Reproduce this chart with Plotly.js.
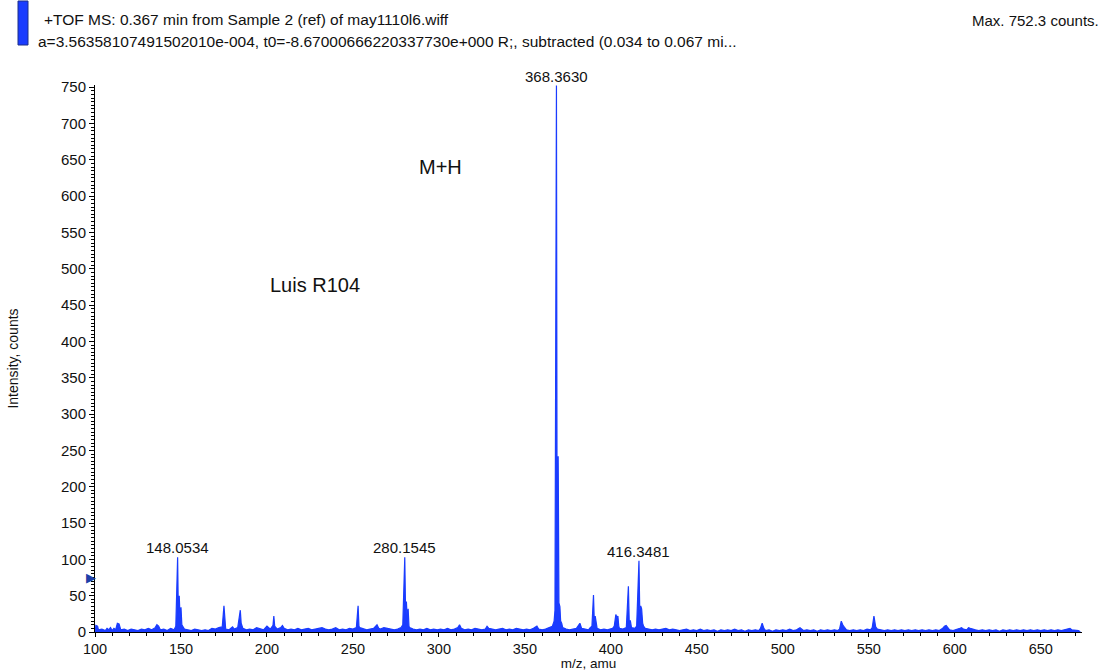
<!DOCTYPE html>
<html>
<head>
<meta charset="utf-8">
<script src="https://cdn.plot.ly/plotly-3.0.1.min.js"></script>
<style>html,body{margin:0;padding:0;background:#fff;}#chart{width:1106px;height:671px;}</style>
</head>
<body>
<div id="chart"></div>
<script>
// m/z values (amu)
var mz = [
  100, 100.5, 101.5, 102, 104, 106, 107, 108, 109, 110,
  111, 112, 113, 114, 115, 117, 119, 121, 123, 125,
  127, 129, 131, 133, 135, 136, 137, 138, 140, 142,
  144, 146, 147, 148.05, 148.5, 149, 149.5, 150, 150.5, 151,
  152, 154, 156, 158, 160, 162, 164, 166, 168, 170,
  172, 174, 175, 175.5, 176, 178, 180, 181, 183, 184.5,
  185, 186, 188, 190, 192, 194, 196, 198, 200, 201,
  202, 203.5, 204, 204.5, 206, 208, 209, 210, 212, 214,
  216, 218, 220, 222, 224, 226, 228, 230, 232, 234,
  236, 238, 240, 242, 244, 246, 248, 250, 252, 253,
  253.5, 254, 256, 258, 260, 262, 264, 265, 266, 268,
  270, 272, 274, 276, 278, 279, 280.15, 280.6, 281.1, 281.6,
  282.1, 282.6, 283, 285, 287, 289, 291, 293, 295, 297,
  299, 301, 303, 305, 307, 309, 311, 312, 313, 315,
  317, 319, 321, 323, 325, 327, 328, 329, 331, 333,
  335, 337, 339, 341, 343, 345, 347, 349, 351, 353,
  355, 357, 358, 360, 362, 364, 366, 367, 367.5, 368.36,
  368.8, 369.37, 369.8, 370.37, 370.8, 371.4, 372, 374, 376, 378,
  380, 382, 383, 385, 387, 388, 389, 389.9, 390.4, 390.9,
  391.5, 392, 394, 396, 398, 400, 401, 402, 402.9, 403.5,
  404.1, 404.6, 405, 407, 409, 410.2, 410.7, 411.3, 411.8, 412,
  414, 415, 416.35, 416.8, 417.35, 417.9, 418.5, 419, 420, 422,
  424, 426, 428, 430, 432, 434, 436, 438, 440, 442,
  444, 446, 448, 450, 452, 454, 456, 458, 460, 462,
  464, 466, 468, 470, 472, 474, 476, 478, 480, 482,
  484, 486, 487, 488, 489, 490, 492, 494, 496, 498,
  500, 502, 504, 506, 508, 510, 511, 512, 514, 516,
  518, 520, 522, 524, 526, 528, 530, 532, 533, 534,
  535, 536, 537, 539, 541, 543, 545, 547, 549, 551,
  552, 553, 553.5, 554, 555, 557, 559, 561, 563, 565,
  567, 569, 571, 573, 575, 577, 579, 581, 583, 585,
  587, 589, 591, 593, 594, 595, 596, 597, 599, 601,
  603, 604, 605, 607, 608, 609, 610, 612, 614, 616,
  618, 620, 622, 624, 626, 628, 630, 632, 634, 636,
  638, 640, 642, 644, 646, 648, 650, 652, 654, 656,
  658, 660, 662, 664, 666, 667, 668, 670, 672, 673
];
// intensity (counts)
var counts = [
  0, 9, 8, 3, 4, 2, 5, 3, 6, 2,
  5, 3, 12, 11, 3, 4, 2, 4, 3, 2,
  4, 3, 5, 3, 6, 10, 8, 3, 4, 2,
  5, 3, 8, 103, 20, 50, 15, 34, 10, 8,
  4, 3, 2, 4, 3, 2, 3, 2, 5, 4,
  6, 7, 36, 8, 4, 3, 7, 4, 6, 30,
  12, 5, 3, 4, 3, 6, 4, 3, 8, 6,
  4, 9, 22, 8, 4, 6, 9, 5, 3, 4,
  3, 5, 3, 4, 5, 3, 4, 5, 6, 4,
  3, 4, 6, 3, 4, 3, 5, 4, 6, 36,
  8, 6, 4, 3, 4, 5, 10, 5, 4, 6,
  5, 4, 3, 4, 6, 10, 103, 30, 42, 15,
  32, 8, 6, 4, 3, 4, 3, 5, 3, 4,
  3, 4, 3, 5, 3, 4, 6, 10, 5, 3,
  4, 3, 5, 4, 3, 4, 8, 5, 4, 3,
  4, 5, 3, 4, 3, 5, 4, 3, 4, 3,
  5, 8, 4, 3, 4, 6, 8, 15, 30, 752.3,
  40, 242, 40, 35, 15, 12, 6, 4, 3, 4,
  5, 12, 5, 4, 3, 6, 8, 51, 12, 22,
  8, 5, 3, 4, 3, 4, 5, 8, 24, 20,
  22, 8, 5, 4, 6, 63, 12, 16, 8, 6,
  5, 8, 98, 30, 36, 32, 12, 8, 5, 4,
  3, 4, 3, 4, 5, 3, 4, 3, 2, 3,
  4, 2, 3, 2, 4, 2, 3, 2, 3, 1,
  3, 2, 3, 2, 4, 2, 3, 1, 3, 2,
  3, 2, 5, 12, 5, 2, 3, 1, 3, 2,
  3, 2, 4, 2, 3, 6, 4, 2, 3, 2,
  3, 1, 3, 2, 3, 2, 3, 2, 4, 15,
  9, 5, 3, 2, 3, 2, 3, 2, 4, 3,
  6, 22, 10, 7, 4, 3, 2, 3, 2, 3,
  2, 3, 2, 3, 2, 3, 2, 3, 2, 3,
  2, 3, 2, 5, 8, 9, 5, 3, 2, 3,
  5, 6, 4, 3, 6, 5, 4, 3, 2, 3,
  2, 3, 2, 3, 1, 3, 2, 3, 2, 3,
  2, 3, 2, 3, 2, 3, 2, 3, 2, 3,
  2, 3, 2, 3, 4, 5, 3, 3, 2, 0
];
// labelled peaks
var peakLabels = ['148.0534', '280.1545', '368.3630', '416.3481'];
var peakMz = [148.05, 280.15, 368.36, 416.35];
var peakCounts = [103, 103, 752.3, 98];
// header texts
var headerLine1 = '+TOF MS: 0.367 min from Sample 2 (ref) of may1110l6.wiff';
var headerLine2 = 'a=3.56358107491502010e-004, t0=-8.67000666220337730e+000 R;, subtracted (0.034 to 0.067 mi...';
var maxText = 'Max. 752.3 counts.';
var noteTexts = ['M+H', 'Luis R104'];
var noteMz = [301, 228];
var noteCounts = [640, 477];
var markerCount = 75;

var W = 1106, H = 671, L = 95, R = 24, T = 85, B = 39;
var pw = W - L - R, ph = H - T - B;
function px(x) { return (x - L) / pw; }
function py(y) { return (H - B - y) / ph; }

var FONT = 'Liberation Sans, Arial, sans-serif';
var BLUE = '#1a3cff';
var TXT = '#111';

var annotations = [];
for (var i = 0; i < peakLabels.length; i++) {
  annotations.push({x: peakMz[i], y: peakCounts[i], xref: 'x', yref: 'y', text: peakLabels[i],
    showarrow: false, xanchor: 'center', yanchor: 'bottom', yshift: -1,
    font: {family: FONT, size: 15, color: TXT}});
}
for (var j = 0; j < noteTexts.length; j++) {
  annotations.push({x: noteMz[j], y: noteCounts[j], xref: 'x', yref: 'y', text: noteTexts[j],
    showarrow: false, xanchor: 'center', yanchor: 'middle',
    font: {family: FONT, size: 20, color: TXT}});
}
annotations.push({x: px(42), y: py(20), xref: 'paper', yref: 'paper', text: headerLine1, showarrow: false,
  xanchor: 'left', yanchor: 'middle', font: {family: FONT, size: 15.5, color: TXT}});
annotations.push({x: px(36), y: py(41), xref: 'paper', yref: 'paper', text: headerLine2, showarrow: false,
  xanchor: 'left', yanchor: 'middle', font: {family: FONT, size: 15.5, color: TXT}});
annotations.push({x: px(1101), y: py(21), xref: 'paper', yref: 'paper', text: maxText, showarrow: false,
  xanchor: 'right', yanchor: 'middle', font: {family: FONT, size: 15, color: TXT}});
annotations.push({x: 0, y: markerCount, xref: 'paper', yref: 'y', text: '\u25B6', showarrow: false,
  xanchor: 'right', yanchor: 'middle', xshift: 3, font: {family: 'DejaVu Sans', size: 13, color: '#1d3fa8'}});

var trace = {
  x: mz, y: counts, type: 'scatter', mode: 'lines',
  line: {color: BLUE, width: 1.2}, fill: 'tozeroy', fillcolor: BLUE,
  hoverinfo: 'x+y'
};

var layout = {
  width: W, height: H,
  margin: {l: L, r: R, t: T, b: B, pad: 0},
  paper_bgcolor: '#fff', plot_bgcolor: '#fff',
  showlegend: false,
  font: {family: FONT, size: 15, color: TXT},
  xaxis: {
    range: [100, 674], tickvals: [100,150,200,250,300,350,400,450,500,550,600,650],
    showgrid: false, zeroline: false, showline: true, linecolor: '#000', linewidth: 1,
    ticks: 'outside', ticklen: 4, tickcolor: '#000', tickfont: {family: FONT, size: 14.5, color: TXT},
    minor: {dtick: 10, ticks: 'outside', ticklen: 3, tickcolor: '#000', showgrid: false},
    title: {text: 'm/z, amu', font: {family: FONT, size: 13.5, color: TXT}, standoff: 1},
    automargin: false, fixedrange: true
  },
  yaxis: {
    range: [0, 753], dtick: 50, tick0: 0,
    showgrid: false, zeroline: false, showline: true, linecolor: '#000', linewidth: 1,
    ticks: 'outside', ticklen: 5, tickcolor: '#000', tickfont: {family: FONT, size: 15, color: TXT},
    minor: {dtick: 5, ticks: 'outside', ticklen: 3, tickcolor: '#000', showgrid: false},
    title: {text: 'Intensity, counts', font: {family: FONT, size: 14, color: TXT}, standoff: 39},
    automargin: false, fixedrange: true
  },
  shapes: [{type: 'rect', xref: 'paper', yref: 'paper', x0: px(18), x1: px(28), y0: py(45), y1: py(1),
    fillcolor: BLUE, line: {color: '#1d2f8a', width: 1}}],
  annotations: annotations
};

Plotly.newPlot('chart', [trace], layout, {displayModeBar: false, staticPlot: true});
</script>
</body>
</html>
